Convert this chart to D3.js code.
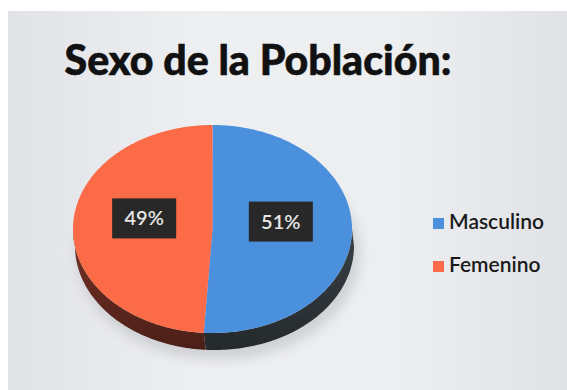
<!DOCTYPE html>
<html>
<head>
<meta charset="utf-8">
<script src="https://cdn.jsdelivr.net/npm/d3@7"></script>
<style>
  html, body { margin: 0; padding: 0; background: #ffffff; }
  svg { display: block; }
</style>
</head>
<body>
<svg id="chart" width="567" height="390"></svg>
<script>
// Data
const categories = ["Masculino", "Femenino"];
const values = [51, 49];
const labels = ["51%", "49%"];
const title = "Sexo de la Población:";

// Styling
const topColors = { Masculino: "#4a90dc", Femenino: "#fb6b47" };
const sideColors = { Masculino: ["#3a4146", "#24292c"], Femenino: ["#7a3326", "#4a1f18"] };

const svg = d3.select("#chart");
const W = 567, H = 390;

const defs = svg.append("defs");

// Panel background: light centre, slightly darker edges
const bg = defs.append("linearGradient").attr("id", "bg").attr("x1", 0).attr("y1", 0).attr("x2", 1).attr("y2", 0);
bg.append("stop").attr("offset", "0%").attr("stop-color", "#e2e3e7");
bg.append("stop").attr("offset", "35%").attr("stop-color", "#eeeff1");
bg.append("stop").attr("offset", "70%").attr("stop-color", "#eceef0");
bg.append("stop").attr("offset", "100%").attr("stop-color", "#e1e2e6");
svg.append("rect").attr("x", 8).attr("y", 11).attr("width", W - 8).attr("height", H - 11).attr("fill", "url(#bg)");

const shadow = defs.append("filter").attr("id", "soft").attr("x", "-20%").attr("y", "-50%").attr("width", "140%").attr("height", "200%");
shadow.append("feGaussianBlur").attr("stdDeviation", 6);

// Gradients for the side walls
Object.entries(sideColors).forEach(([k, [c0, c1]]) => {
  const g = defs.append("linearGradient").attr("id", "side-" + k).attr("x1", 0).attr("y1", 0).attr("x2", 0).attr("y2", 1);
  g.append("stop").attr("offset", "0%").attr("stop-color", c0);
  g.append("stop").attr("offset", "100%").attr("stop-color", c1);
});

// Title, fitted to its width
const titleText = svg.append("text")
  .attr("x", 258).attr("y", 75)
  .attr("text-anchor", "middle")
  .attr("font-family", "Lato, 'Open Sans', sans-serif")
  .attr("font-weight", 900)
  .attr("font-size", 44)
  .attr("fill", "#111111")
  .attr("stroke", "#111111")
  .attr("stroke-width", 0.6)
  .text(title);
const tw = titleText.node().getComputedTextLength();
titleText.attr("font-size", 44 * 387 / tw);

// Pie geometry (elliptical, tilted disc)
const cx = 212.5, cy = 229, rx = 139.5, ry = 104, depth = 17, dxSide = 2;
const pt = (a, dy = 0, dx = 0) => [cx + dx + rx * Math.sin(a), cy + dy - ry * Math.cos(a)];

const pie = d3.pie().sort(null).value(d => d.value).startAngle(0).endAngle(2 * Math.PI);
const arcs = pie(categories.map((c, i) => ({ cat: c, value: values[i], label: labels[i] })));

function arcPoints(a0, a1, dy, dx) {
  const n = Math.max(2, Math.ceil(Math.abs(a1 - a0) / 0.02));
  return d3.range(n + 1).map(i => pt(a0 + (a1 - a0) * i / n, dy, dx));
}

// Soft shadow under the disc
svg.append("ellipse")
  .attr("cx", cx + 6).attr("cy", cy + depth + 8)
  .attr("rx", rx + 2).attr("ry", ry + 2)
  .attr("fill", "#9a9ca2").attr("opacity", 0.35)
  .attr("filter", "url(#soft)");

// Side walls for the front-facing half
const frontStart = Math.PI / 2, frontEnd = 3 * Math.PI / 2;
arcs.forEach(d => {
  const a0 = Math.max(d.startAngle, frontStart);
  const a1 = Math.min(d.endAngle, frontEnd);
  if (a1 <= a0) return;
  const top = arcPoints(a0, a1, 0, 0);
  const bottom = arcPoints(a1, a0, depth, dxSide);
  svg.append("path")
    .attr("d", d3.line()(top.concat(bottom)) + "Z")
    .attr("fill", `url(#side-${d.data.cat})`);
});

// Top faces
arcs.forEach(d => {
  const pts = [[cx, cy]].concat(arcPoints(d.startAngle, d.endAngle, 0, 0));
  svg.append("path")
    .attr("d", d3.line()(pts) + "Z")
    .attr("fill", topColors[d.data.cat]);
});

// Value labels on dark boxes
const bw = 64, bh = 40;
arcs.forEach(d => {
  const mid = (d.startAngle + d.endAngle) / 2;
  const lx = cx + 0.49 * rx * Math.sin(mid);
  const ly = cy - 0.49 * ry * Math.cos(mid) - 9;
  svg.append("rect")
    .attr("x", lx - bw / 2).attr("y", ly - bh / 2)
    .attr("width", bw).attr("height", bh)
    .attr("fill", "#282828");
  svg.append("text")
    .attr("x", lx).attr("y", ly + 7)
    .attr("text-anchor", "middle")
    .attr("font-family", "Lato, 'Open Sans', sans-serif")
    .attr("font-weight", 600)
    .attr("font-size", 20)
    .attr("fill", "#e6e6e6")
    .text(d.data.label);
});

// Legend
const legend = svg.append("g").attr("transform", "translate(433,218)");
categories.forEach((c, i) => {
  const g = legend.append("g").attr("transform", `translate(0,${i * 43})`);
  g.append("rect").attr("width", 11).attr("height", 11).attr("fill", topColors[c]);
  g.append("text")
    .attr("x", 16).attr("y", 10.5)
    .attr("font-family", "Lato, 'Open Sans', sans-serif")
    .attr("font-weight", 600)
    .attr("font-size", 21)
    .attr("fill", "#1a1a1a")
    .text(c);
});
</script>
</body>
</html>
